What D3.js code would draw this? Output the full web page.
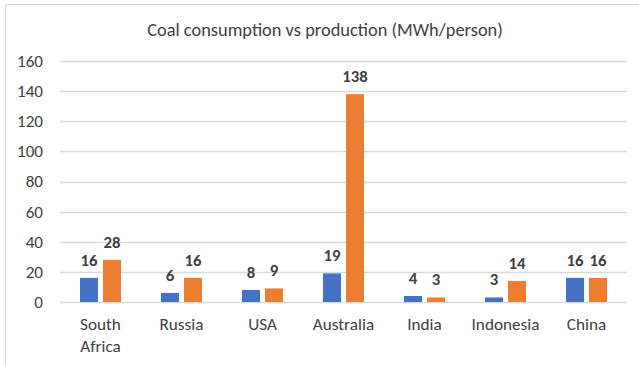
<!DOCTYPE html>
<html>
<head>
<meta charset="utf-8">
<script src="https://cdn.jsdelivr.net/npm/d3@7/dist/d3.min.js"></script>
<style>
  html, body { margin: 0; padding: 0; background: #fff; }
  svg { display: block; font-family: Carlito, Calibri, Lato, "Open Sans", sans-serif; }
</style>
</head>
<body>
<svg id="chart" width="639" height="365"></svg>
<script>
// Coal consumption vs production per person, by country
const countries = ["South Africa", "Russia", "USA", "Australia", "India", "Indonesia", "China"];
const consumption = [16, 6, 8, 19, 4, 3, 16];
const production = [28, 16, 9, 138, 3, 14, 16];
const yTicks = [0, 20, 40, 60, 80, 100, 120, 140, 160];
const title = "Coal consumption vs production (MWh/person)";

const svg = d3.select("#chart");
const W = 639, H = 365;
const margin = { left: 60, right: 12, top: 61, bottom: 63 };
const FONT = "Carlito, Calibri, Lato, sans-serif";
const TEXT = "#404040";

// pick a font size so that a sample string spans the wanted width
function fitSize(sample, width, weight) {
  const t = svg.append("text").attr("font-family", FONT).attr("font-size", 100)
    .attr("font-weight", weight || "normal").text(sample);
  const w = t.node().getComputedTextLength();
  t.remove();
  return 100 * width / w;
}
const titleSize = fitSize(title, 356);
const catSize = fitSize("Indonesia", 68);
const tickSize = fitSize("160", 26);
const valSize = fitSize("138", 25.5, "bold");

// chart frame
svg.append("rect")
  .attr("x", 5.5).attr("y", 4.5)
  .attr("width", W + 10).attr("height", H + 10)
  .attr("fill", "#fff").attr("stroke", "#d9d9d9").attr("stroke-width", 1);

const x0 = d3.scaleBand().domain(countries).range([margin.left, W - margin.right]).padding(0);
const y = d3.scaleLinear().domain([0, 160]).range([H - margin.bottom, margin.top]);

// gridlines
svg.append("g")
  .selectAll("line").data(yTicks).join("line")
  .attr("x1", margin.left).attr("x2", W - margin.right)
  .attr("y1", d => Math.round(y(d)) + 0.5).attr("y2", d => Math.round(y(d)) + 0.5)
  .attr("stroke", "#d9d9d9").attr("stroke-width", 1.5);

// y axis labels
const yAxis = d3.axisLeft(y).tickValues(yTicks).tickSize(0).tickPadding(0);
const gy = svg.append("g").attr("transform", `translate(${43},0)`).call(yAxis);
gy.attr("font-size", null).attr("font-family", null);
gy.select(".domain").remove();
gy.selectAll("text")
  .attr("fill", TEXT)
  .style("font-size", tickSize + "px")
  .style("font-family", FONT);

// title
svg.append("text")
  .attr("x", 325).attr("y", 36)
  .attr("text-anchor", "middle")
  .attr("fill", TEXT)
  .style("font-size", titleSize + "px")
  .text(title);

// bars
const series = [
  { key: "consumption", values: consumption, color: "#4472C4" },
  { key: "production", values: production, color: "#ED7D31" }
];
const barW = 18, gap = 5;
const x1 = d3.scaleOrdinal().domain(series.map(s => s.key))
  .range([-gap / 2 - barW, gap / 2]);

series.forEach(s => {
  const g = svg.append("g");
  g.selectAll("rect").data(countries).join("rect")
    .attr("x", d => x0(d) + x0.bandwidth() / 2 + x1(s.key))
    .attr("y", (d, i) => y(s.values[i]))
    .attr("width", barW)
    .attr("height", (d, i) => y(0) - y(s.values[i]))
    .attr("fill", s.color);
  g.selectAll("text").data(countries).join("text")
    .attr("x", d => x0(d) + x0.bandwidth() / 2 + x1(s.key) + barW / 2)
    .attr("y", (d, i) => y(s.values[i]) - 12)
    .attr("text-anchor", "middle")
    .style("font-size", valSize + "px").attr("font-weight", "bold")
    .attr("fill", TEXT)
    .text((d, i) => s.values[i]);
});

// category labels
const gx = svg.append("g");
countries.forEach(c => {
  const words = c.split(" ");
  const cx = x0(c) + x0.bandwidth() / 2;
  const t = gx.append("text")
    .attr("x", cx)
    .attr("y", 330)
    .attr("text-anchor", "middle")
    .style("font-size", catSize + "px").attr("fill", TEXT);
  words.forEach((w, i) => {
    t.append("tspan").attr("x", cx).attr("dy", i === 0 ? 0 : 22).text(w);
  });
});
</script>
</body>
</html>
